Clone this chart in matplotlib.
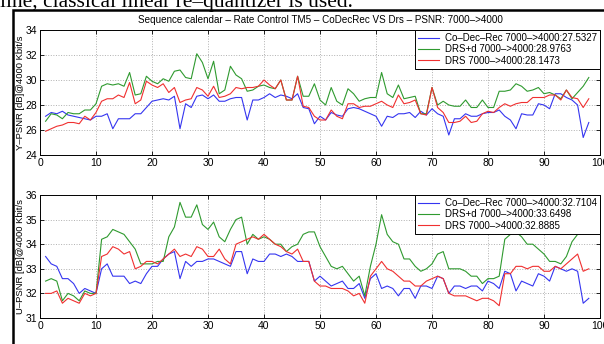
import numpy as np
import matplotlib
matplotlib.use("Agg")
from matplotlib import pyplot as plt
from matplotlib.patches import Rectangle

plt.rcParams['font.family'] = ['Liberation Sans', 'DejaVu Sans']

frames = np.arange(1, 99)

# Y-PSNR (top panel)
y_codec = [27.1, 27.4, 27.3, 27.5, 27.2, 27.1, 27.0, 26.9, 26.8, 27.1,
           27.1, 27.3, 26.1, 26.9, 26.9, 26.9, 27.3, 27.3, 27.8, 28.3,
           28.4, 28.5, 28.4, 28.7, 26.1, 28.1, 27.8, 28.7, 28.8, 28.5,
           28.8, 28.3, 28.3, 28.5, 28.6, 28.6, 26.8, 28.4, 28.4, 28.6,
           28.9, 28.6, 28.8, 28.7, 28.5, 28.9, 27.8, 27.7, 26.5, 27.1,
           26.8, 27.4, 27.2, 27.1, 27.7, 27.8, 27.7, 27.5, 27.3, 27.1,
           26.3, 27.1, 27.0, 27.3, 27.3, 27.4, 27.0, 27.5, 27.2, 27.7,
           27.3, 27.1, 25.6, 26.9, 26.9, 27.3, 27.1, 27.1, 27.3, 27.4,
           27.4, 27.6, 27.1, 26.8, 26.1, 27.3, 27.2, 27.2, 28.1, 28.0,
           27.7, 28.9, 28.9, 28.6, 28.4, 28.0, 25.4, 26.6]
y_drsd = [26.7, 27.3, 27.2, 26.9, 27.4, 27.3, 27.3, 27.6, 27.6, 28.1,
          29.5, 29.7, 29.6, 29.7, 29.5, 30.6, 28.8, 28.9, 30.3, 29.9,
          29.7, 30.1, 29.9, 30.7, 30.8, 30.2, 30.1, 32.1, 31.4, 30.1,
          31.5, 28.9, 29.2, 31.1, 30.4, 30.1, 29.1, 29.2, 29.5, 29.6,
          29.4, 29.3, 30.0, 28.4, 28.4, 30.3, 28.7, 28.7, 29.7, 28.4,
          28.0, 29.4, 28.3, 28.0, 29.3, 28.9, 28.3, 28.5, 28.6, 28.6,
          30.6, 28.9, 28.6, 29.6, 28.5, 28.6, 28.7, 27.3, 27.3, 29.4,
          28.0, 28.3, 28.0, 27.9, 27.9, 28.4, 27.8, 27.8, 28.4, 27.8,
          27.8, 29.1, 29.1, 29.2, 29.7, 29.5, 29.1, 29.2, 29.4, 28.9,
          29.0, 28.8, 28.5, 29.2, 28.5, 29.0, 29.5, 30.2]
y_drs = [25.9, 26.1, 26.3, 26.4, 26.6, 26.6, 26.5, 27.1, 26.8, 27.4,
         28.3, 28.5, 28.5, 28.8, 28.6, 29.8, 28.1, 28.4, 29.9, 29.6,
         29.4, 29.7, 29.0, 29.4, 28.2, 28.4, 28.5, 29.4, 29.2, 28.7,
         29.5, 28.6, 28.7, 28.9, 29.4, 29.3, 29.4, 29.4, 29.5, 30.0,
         29.6, 29.3, 30.0, 28.4, 28.4, 30.3, 27.9, 27.8, 27.1, 26.8,
         26.8, 27.6, 27.1, 26.9, 28.1, 28.1, 27.8, 27.9, 27.9, 28.1,
         28.3, 28.0, 27.8, 28.8, 28.1, 28.2, 28.4, 27.3, 27.2, 29.4,
         27.8, 27.4, 26.6, 26.6, 26.7, 27.1, 26.6, 26.7, 27.3, 27.5,
         27.4, 27.8, 28.1, 27.9, 28.1, 28.2, 28.2, 28.6, 28.6, 28.6,
         28.8, 28.8, 28.4, 29.2, 28.6, 28.5, 27.8, 28.5]

# U-PSNR (bottom panel)
u_codec = [33.5, 33.2, 33.1, 32.6, 32.6, 32.4, 32.0, 32.2, 32.1, 32.0,
           33.0, 33.2, 32.7, 32.7, 32.7, 32.4, 32.5, 32.4, 32.8, 33.1,
           33.1, 33.4, 33.6, 33.7, 32.6, 33.3, 33.1, 33.3, 33.3, 33.4,
           33.4, 33.3, 33.2, 33.1, 33.7, 33.7, 32.8, 33.4, 33.3, 33.3,
           33.6, 33.6, 33.5, 33.6, 33.5, 33.3, 33.3, 33.3, 32.5, 32.7,
           32.5, 32.3, 32.4, 32.5, 32.2, 32.2, 32.4, 31.8, 32.6, 32.8,
           32.2, 32.3, 32.2, 31.9, 32.2, 32.2, 31.8, 32.3, 32.3, 32.2,
           32.7, 32.6, 32.0, 32.3, 32.3, 32.2, 32.3, 32.3, 32.1, 32.5,
           32.4, 32.2, 32.9, 32.8, 32.1, 32.5, 32.4, 32.3, 32.8, 32.7,
           32.5, 33.1, 33.0, 32.9, 33.0, 32.9, 31.6, 31.8]
u_drsd = [32.5, 32.6, 32.5, 31.7, 32.0, 31.9, 31.7, 32.1, 32.0, 32.0,
          34.2, 34.3, 34.6, 34.5, 34.4, 34.1, 33.8, 33.2, 33.2, 33.2,
          33.3, 33.3, 34.3, 34.7, 35.7, 35.1, 35.1, 35.6, 34.8, 34.6,
          34.9, 34.3, 34.1, 34.6, 35.0, 35.1, 34.0, 34.4, 34.2, 34.3,
          34.2, 34.0, 34.0, 33.7, 33.9, 34.0, 34.4, 34.5, 34.5, 33.9,
          33.5, 33.1, 33.0, 33.1, 32.8, 32.5, 32.7, 31.9, 33.1, 34.0,
          35.2, 34.4, 34.1, 34.0, 33.4, 33.4, 33.1, 32.9, 33.0, 33.2,
          33.6, 33.7, 33.0, 33.0, 33.0, 32.9, 32.7, 32.7, 32.4, 32.6,
          32.6, 32.7, 34.2, 34.4, 34.5, 34.3, 34.0, 34.0, 33.8, 33.6,
          33.3, 33.3, 33.2, 33.5, 34.1, 34.4, 34.8, 35.1]
u_drs = [32.0, 32.0, 32.1, 31.6, 31.8, 31.7, 31.6, 32.0, 31.9, 32.0,
         33.5, 33.6, 33.9, 33.8, 33.6, 33.7, 33.0, 33.1, 33.3, 33.3,
         33.2, 33.4, 33.6, 33.8, 33.5, 33.6, 33.5, 33.9, 33.8, 33.5,
         33.5, 33.8, 33.4, 33.2, 34.0, 34.1, 34.2, 34.3, 34.2, 34.4,
         34.2, 34.0, 33.9, 33.7, 33.6, 33.8, 33.3, 33.3, 32.5, 32.3,
         32.3, 32.2, 32.2, 32.2, 32.1, 31.9, 32.0, 31.6, 32.7, 33.0,
         33.3, 33.0, 32.9, 32.7, 32.5, 32.5, 32.3, 32.3, 32.5, 32.6,
         32.7, 32.6, 32.0, 31.9, 31.9, 31.9, 31.8, 31.7, 31.8, 31.8,
         31.7, 31.5, 32.8, 32.8, 33.1, 33.1, 33.0, 33.1, 33.1, 32.9,
         32.9, 33.1, 33.0, 33.2, 33.4, 33.6, 32.9, 33.0]

y_labels = ['Co\u2013Dec\u2013Rec 7000\u2013>4000:27.5327',
            'DRS+d 7000\u2013>4000:28.9763',
            'DRS 7000\u2013>4000:28.1473']
u_labels = ['Co\u2013Dec\u2013Rec 7000\u2013>4000:32.7104',
            'DRS+d 7000\u2013>4000:33.6498',
            'DRS 7000\u2013>4000:32.8885']
colors = ['#3535f0', '#2f9a2f', '#f03030']

W, H = 604, 344
fig = plt.figure(figsize=(W / 100, H / 100), dpi=100)

# paper text cut off above the figure
fig.text(0, 1 - 7.5 / H, 'line, classical linear re\u2013quantizer is used.',
         family='Liberation Serif', fontsize=15.5, va='baseline', ha='left')
# frame around the embedded figure
fig.patches.append(Rectangle((12.5 / W, -0.1), 1.2, 1 - 10 / H + 0.1,
                             transform=fig.transFigure, fill=False,
                             edgecolor='black', linewidth=1.8))


def panel(rect, series, labels, ylim, yticks, ylabel):
    ax = fig.add_axes(rect)
    for s, lab, c in zip(series, labels, colors):
        ax.plot(frames, s, color=c, linewidth=0.8, label=lab)
    ax.set_xlim(0, 100)
    ax.set_ylim(*ylim)
    ax.set_xticks(np.arange(0, 101, 10))
    ax.set_yticks(yticks)
    ax.grid(True, linestyle=':', color='#b0b0b0', linewidth=0.7)
    ax.tick_params(direction='in', top=True, right=True, labelsize=7.5,
                   length=3, width=0.6, pad=2)
    for sp in ax.spines.values():
        sp.set_linewidth(0.7)
    ax.set_ylabel(ylabel, fontsize=6.8)
    ax.yaxis.set_label_coords(-15 / 560, 0.5)
    leg = ax.legend(loc='upper right', fontsize=7, frameon=True, fancybox=False,
                    borderaxespad=0.0, handlelength=2.2, labelspacing=0.15,
                    borderpad=0.3, handletextpad=0.6)
    leg.get_frame().set_edgecolor('black')
    leg.get_frame().set_linewidth(0.7)
    leg.get_frame().set_alpha(1)
    return ax


ax1 = panel([40 / W, 1 - 155 / H, 560 / W, 125 / H],
            [y_codec, y_drsd, y_drs], y_labels, (24, 34), np.arange(24, 35, 2),
            'Y\u2013PSNR [dB]@4000 Kbit/s')
ax1.set_title('Sequence calendar \u2013 Rate Control TM5 \u2013 CoDecRec VS Drs \u2013 PSNR: 7000\u2013>4000',
              fontsize=7.1, pad=5)
ax2 = panel([40 / W, 1 - 318 / H, 560 / W, 123 / H],
            [u_codec, u_drsd, u_drs], u_labels, (31, 36), np.arange(31, 37, 1),
            'U\u2013PSNR [dB]@4000 Kbit/s')

fig.savefig('out.png', dpi=100)
